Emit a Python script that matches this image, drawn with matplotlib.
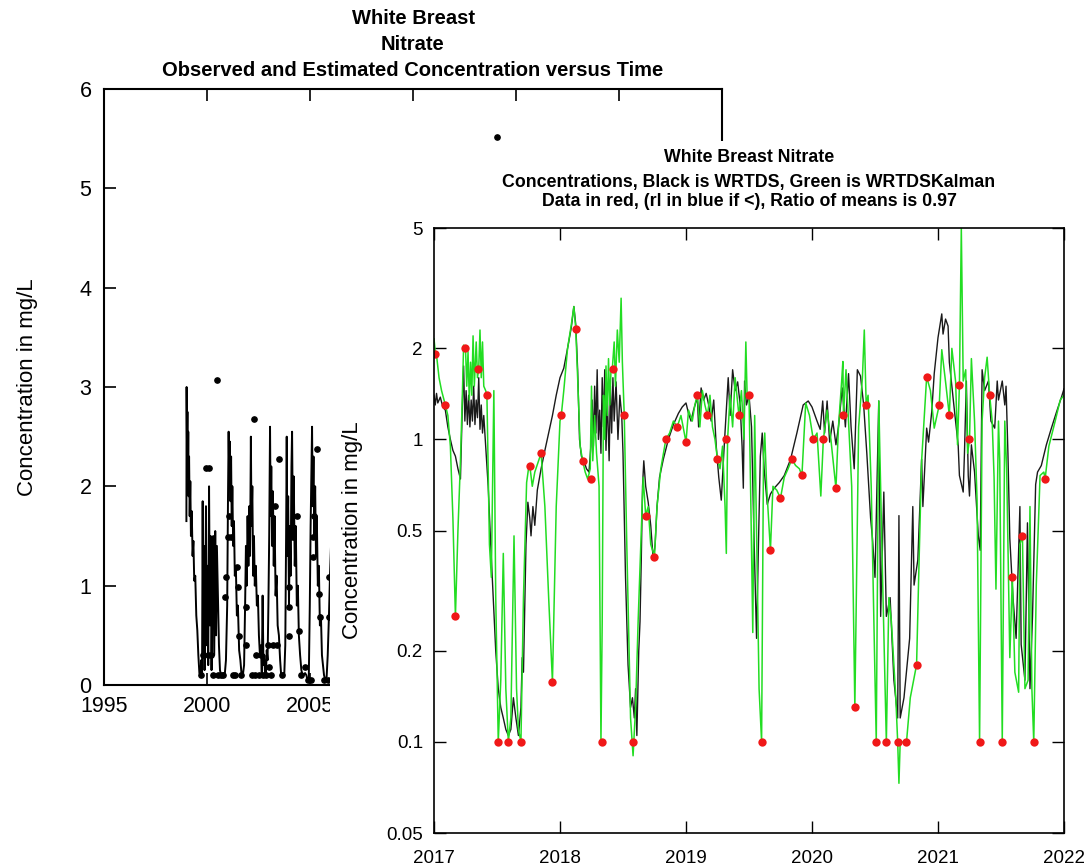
import numpy as np
import matplotlib.pyplot as plt
from matplotlib.patches import Rectangle
from matplotlib.ticker import NullLocator

plt.rcParams['font.family'] = ['Liberation Sans', 'DejaVu Sans']

# ---- back chart: observed and estimated concentration (linear, 1995-2025)
back_t = [1999.00, 1999.01, 1999.03, 1999.05, 1999.07, 1999.09, 1999.11, 1999.13, 1999.16, 1999.19, 1999.22,
          1999.26, 1999.30, 1999.34, 1999.38, 1999.43, 1999.48, 1999.53, 1999.58, 1999.63, 1999.68,
          1999.72, 1999.76, 1999.79, 1999.82, 1999.85, 1999.88, 1999.91, 1999.95, 1999.98,
          2000.02, 2000.06, 2000.10, 2000.14, 2000.18, 2000.22, 2000.26, 2000.30, 2000.35, 2000.40, 2000.44,
          2000.48, 2000.53, 2000.58, 2000.63, 2000.68, 2000.74, 2000.80, 2000.86, 2000.92, 2000.98,
          2001.02, 2001.05, 2001.08, 2001.11, 2001.14, 2001.17, 2001.20, 2001.23, 2001.27, 2001.31,
          2001.35, 2001.40, 2001.45, 2001.50, 2001.56, 2001.62, 2001.68, 2001.74, 2001.80,
          2001.85, 2001.89, 2001.93, 2001.97, 2002.01, 2002.05, 2002.09, 2002.13, 2002.16, 2002.20, 2002.24,
          2002.28, 2002.32, 2002.37, 2002.42, 2002.47, 2002.52, 2002.57, 2002.62, 2002.66, 2002.70, 2002.74,
          2002.78, 2002.82, 2002.86, 2002.90, 2002.94, 2002.98,
          2003.02, 2003.06, 2003.09, 2003.12, 2003.16, 2003.20, 2003.24, 2003.28, 2003.33, 2003.38,
          2003.43, 2003.49, 2003.55, 2003.60, 2003.65, 2003.70, 2003.75, 2003.80,
          2003.84, 2003.87, 2003.90, 2003.94, 2003.98, 2004.02, 2004.06, 2004.10, 2004.13, 2004.17, 2004.21,
          2004.26, 2004.31, 2004.36, 2004.41, 2004.46, 2004.52, 2004.58, 2004.64, 2004.70, 2004.76, 2004.82,
          2004.88, 2004.94, 2004.99,
          2005.03, 2005.07, 2005.10, 2005.13, 2005.17, 2005.21, 2005.25, 2005.29, 2005.33, 2005.38, 2005.43,
          2005.48, 2005.53, 2005.58, 2005.63, 2005.68, 2005.74, 2005.80, 2005.86, 2005.92, 2005.97, 2006.02,
          2006.10]
back_c = [1.65, 3.00, 2.40, 2.75, 2.10, 2.55, 1.90, 2.30, 1.70, 2.05, 1.50,
          1.75, 1.30, 1.45, 1.05, 1.10, 0.70, 0.55, 0.30, 0.12, 0.10,
          0.25, 0.10, 1.85, 0.30, 1.40, 0.15, 0.60, 1.80, 0.40,
          1.20, 0.20, 2.00, 0.60, 1.50, 0.15, 1.00, 1.50, 0.30, 1.55, 0.50,
          1.40, 0.90, 0.40, 0.15, 0.10, 0.10, 0.12, 0.10, 0.25, 0.80,
          1.90, 2.55, 2.10, 2.45, 1.85, 2.30, 1.60, 2.00, 1.40, 1.65,
          1.10, 1.20, 0.70, 0.80, 0.35, 0.25, 0.10, 0.10, 0.20,
          0.80, 1.40, 1.00, 1.70, 1.20, 1.80, 1.30, 2.50, 1.60, 2.00, 1.10,
          1.50, 1.00, 1.20, 0.80, 0.90, 0.50, 0.30, 0.40, 0.10, 0.90, 0.20,
          0.30, 0.10, 0.10, 0.35, 0.25, 0.80,
          1.50, 2.60, 1.70, 2.20, 1.40, 1.95, 1.20, 1.70, 0.90, 1.10,
          0.60, 0.50, 0.25, 0.10, 0.10, 0.12, 0.10, 0.40,
          1.50, 2.50, 1.30, 1.90, 0.80, 1.60, 1.10, 2.20, 2.55, 1.50, 2.10,
          1.20, 1.60, 0.80, 1.00, 0.50, 0.30, 0.15, 0.10, 0.10, 0.12, 0.10,
          0.05, 0.05, 0.80,
          1.60, 2.20, 2.60, 1.80, 2.30, 1.50, 2.00, 1.30, 1.70, 1.00, 1.20,
          0.60, 0.70, 0.30, 0.20, 0.10, 0.05, 0.05, 0.30, 0.70, 1.10, 1.40,
          1.80]

back_obs_t = [1999.71, 1999.82, 1999.92, 1999.95, 2000.08, 2000.03, 2000.19, 2000.28, 2000.47, 2000.52,
              2000.68, 2000.79, 2000.92, 2000.89, 2001.04, 2001.15, 2001.08, 2001.25, 2001.38, 2001.44,
              2001.49, 2001.57, 2001.65, 2001.89, 2001.89, 2002.18, 2002.27, 2002.35, 2002.38, 2002.54,
              2002.62, 2002.70, 2002.86, 2002.94, 2002.99, 2003.11, 2003.19, 2003.32, 2003.40, 2003.48,
              2003.64, 2003.96, 2003.96, 2004.00, 2004.05, 2004.16, 2004.37, 2004.45, 2004.56, 2004.77,
              2004.89, 2005.05, 2005.13, 2005.13, 2005.21, 2005.32, 2005.42, 2005.49, 2005.70, 2005.86,
              2005.94, 2005.94, 2014.10]
back_obs_c = [0.10, 0.30, 0.58, 2.18, 2.18, 0.30, 0.30, 0.10, 3.07, 0.10,
              0.10, 0.10, 1.09, 0.89, 1.49, 1.49, 1.70, 0.10, 0.10, 1.19,
              0.99, 0.49, 0.10, 0.79, 0.40, 0.10, 2.68, 0.10, 0.30, 0.10,
              0.30, 0.10, 0.10, 0.40, 0.18, 0.10, 0.40, 1.80, 0.40, 2.28,
              0.10, 0.49, 0.79, 0.99, 1.49, 1.49, 1.70, 0.54, 0.10, 0.18,
              0.05, 0.05, 1.29, 1.49, 1.70, 2.38, 0.92, 0.68, 0.05, 0.05,
              1.09, 0.68, 5.52]

# ---- front chart: WRTDS (black), WRTDSKalman (green), data (red), log scale 2017-2022
wrtds_t = [2017.00, 2017.01, 2017.02, 2017.03, 2017.05, 2017.07, 2017.09, 2017.11, 2017.13, 2017.15,
           2017.17, 2017.19, 2017.21, 2017.225, 2017.235, 2017.245, 2017.255, 2017.265, 2017.275, 2017.285,
           2017.295, 2017.305, 2017.315, 2017.325, 2017.335, 2017.345, 2017.355, 2017.365, 2017.375, 2017.385,
           2017.395, 2017.41, 2017.43, 2017.45, 2017.47, 2017.49, 2017.51, 2017.53, 2017.55, 2017.57,
           2017.59, 2017.61, 2017.63, 2017.65, 2017.67, 2017.69, 2017.70, 2017.71, 2017.73, 2017.745,
           2017.76, 2017.77, 2017.785, 2017.80, 2017.82, 2017.85, 2017.88, 2017.91, 2017.94, 2017.97,
           2018.00, 2018.03, 2018.06, 2018.09, 2018.11, 2018.125, 2018.14, 2018.155, 2018.17, 2018.19,
           2018.21, 2018.23, 2018.245, 2018.255, 2018.265, 2018.275, 2018.285, 2018.295, 2018.305, 2018.315,
           2018.325, 2018.335, 2018.345, 2018.355, 2018.365, 2018.375, 2018.39, 2018.40, 2018.41, 2018.42,
           2018.43, 2018.445, 2018.46, 2018.475, 2018.49, 2018.50, 2018.51, 2018.52, 2018.54, 2018.56,
           2018.575, 2018.59, 2018.60, 2018.61, 2018.625, 2018.635, 2018.645, 2018.655, 2018.665, 2018.68,
           2018.70, 2018.72, 2018.74, 2018.755, 2018.77, 2018.79, 2018.82, 2018.86, 2018.90, 2018.94,
           2018.97, 2019.00, 2019.02, 2019.04, 2019.06, 2019.09, 2019.10, 2019.12, 2019.14, 2019.16,
           2019.18, 2019.20, 2019.22, 2019.24, 2019.26, 2019.28, 2019.30, 2019.32, 2019.335, 2019.35,
           2019.37, 2019.39, 2019.41, 2019.43, 2019.445, 2019.455, 2019.465, 2019.48, 2019.50, 2019.52,
           2019.54, 2019.56, 2019.575, 2019.59, 2019.605, 2019.62, 2019.645, 2019.67, 2019.70, 2019.74,
           2019.78, 2019.83, 2019.88, 2019.93, 2019.97, 2020.00, 2020.04, 2020.065, 2020.085, 2020.10,
           2020.12, 2020.14, 2020.165, 2020.19, 2020.21, 2020.24, 2020.265, 2020.29, 2020.31, 2020.335,
           2020.36, 2020.385, 2020.41, 2020.435, 2020.465, 2020.48, 2020.50, 2020.53, 2020.545, 2020.57,
           2020.59, 2020.62, 2020.65, 2020.68, 2020.69, 2020.70, 2020.73, 2020.775, 2020.80, 2020.81,
           2020.84, 2020.87, 2020.88, 2020.91, 2020.925, 2020.95, 2020.97, 2021.00, 2021.03, 2021.04,
           2021.06, 2021.08, 2021.09, 2021.11, 2021.13, 2021.16, 2021.17, 2021.20, 2021.21, 2021.225,
           2021.24, 2021.25, 2021.265, 2021.29, 2021.32, 2021.335, 2021.35, 2021.37, 2021.40, 2021.42,
           2021.45, 2021.47, 2021.48, 2021.51, 2021.53, 2021.54, 2021.555, 2021.57, 2021.595, 2021.62,
           2021.65, 2021.66, 2021.69, 2021.71, 2021.73, 2021.75, 2021.775, 2021.79, 2021.82, 2021.86,
           2021.90, 2021.94, 2021.98, 2022.00]
wrtds_c = [1.40, 1.30, 1.42, 1.32, 1.38, 1.28, 1.25, 1.10, 1.00, 0.92,
           0.88, 0.80, 0.74, 1.30, 1.75, 1.15, 1.45, 1.12, 1.40, 1.10,
           1.35, 1.15, 1.50, 1.12, 1.35, 1.18, 1.60, 1.08, 1.30, 1.05,
           1.20, 0.95, 0.70, 0.45, 0.30, 0.20, 0.15, 0.13, 0.12, 0.11,
           0.105, 0.11, 0.14, 0.12, 0.105, 0.13, 0.19, 0.17, 0.45, 0.62,
           0.55, 0.48, 0.60, 0.52, 0.68, 0.80, 0.92, 1.05, 1.20, 1.40,
           1.60, 1.72, 2.00, 2.35, 2.75, 2.40, 1.70, 1.00, 0.88, 0.85,
           0.80, 0.78, 0.95, 1.35, 0.95, 1.50, 1.05, 1.70, 1.00, 1.25,
           0.90, 1.60, 1.10, 1.70, 0.92, 1.40, 0.85, 1.50, 1.05, 1.60,
           1.15, 1.55, 1.00, 1.40, 1.20, 0.90, 0.55, 0.35, 0.18, 0.13,
           0.14, 0.12, 0.15, 0.105, 0.20, 0.25, 0.40, 0.70, 0.85, 0.70,
           0.62, 0.52, 0.40, 0.45, 0.60, 0.75, 0.86, 1.00, 1.12, 1.22,
           1.28, 1.32, 1.22, 1.15, 1.25, 1.38, 1.10, 1.48, 1.35, 1.42,
           1.30, 1.15, 1.35, 0.95, 0.75, 0.63, 0.90, 1.25, 1.60, 1.20,
           1.70, 1.45, 1.55, 1.30, 0.95, 0.69, 1.56, 1.30, 1.40, 1.10,
           0.47, 0.22, 0.45, 0.88, 1.05, 0.80, 0.61, 0.66, 0.69, 0.72,
           0.76, 0.86, 1.05, 1.30, 1.34, 1.28, 1.15, 1.08, 1.34, 1.05,
           1.34, 0.98, 1.15, 0.96, 1.10, 1.48, 1.10, 1.65, 1.10, 0.80,
           1.70, 1.62, 1.30, 0.90, 0.55, 0.47, 0.35, 1.34, 0.26, 0.67,
           0.26, 0.30, 0.16, 0.12, 0.56, 0.12, 0.14, 0.22, 0.60, 0.33,
           0.40, 0.86, 0.60, 1.09, 0.98, 1.23, 1.65, 2.17, 2.60, 2.23,
           2.50, 2.37, 1.80, 1.50, 1.25, 0.96, 0.76, 0.67, 0.90, 1.56,
           0.76, 0.65, 0.96, 0.78, 0.48, 0.43, 1.70, 1.45, 1.56, 1.15,
           1.09, 1.56, 1.35, 1.56, 1.30, 1.50, 0.90, 0.47, 0.30, 0.22,
           0.60, 0.21, 0.16, 0.53, 0.15, 0.26, 0.71, 0.78, 0.82, 0.96,
           1.09, 1.23, 1.38, 1.47]

kalman_t = [2017.00, 2017.01, 2017.02, 2017.04, 2017.06, 2017.09, 2017.11, 2017.13, 2017.15, 2017.17,
            2017.19, 2017.21, 2017.225, 2017.235, 2017.25, 2017.26, 2017.27, 2017.28, 2017.29, 2017.30,
            2017.31, 2017.32, 2017.335, 2017.345, 2017.355, 2017.365, 2017.375, 2017.385, 2017.395, 2017.41,
            2017.42, 2017.43, 2017.44, 2017.455, 2017.475, 2017.49, 2017.51, 2017.53, 2017.55, 2017.57,
            2017.59, 2017.61, 2017.635, 2017.655, 2017.67, 2017.69, 2017.71, 2017.735, 2017.75, 2017.76,
            2017.78, 2017.80, 2017.83, 2017.85, 2017.88, 2017.91, 2017.94, 2017.97, 2018.00, 2018.01,
            2018.03, 2018.06, 2018.09, 2018.11, 2018.125, 2018.14, 2018.16, 2018.18, 2018.20, 2018.22,
            2018.24, 2018.25, 2018.26, 2018.275, 2018.29, 2018.31, 2018.325, 2018.335, 2018.345, 2018.355,
            2018.365, 2018.375, 2018.385, 2018.395, 2018.405, 2018.415, 2018.43, 2018.44, 2018.455, 2018.47,
            2018.485, 2018.495, 2018.51, 2018.53, 2018.56, 2018.58, 2018.60, 2018.62, 2018.645, 2018.66,
            2018.68, 2018.70, 2018.72, 2018.75, 2018.77, 2018.80, 2018.84, 2018.87, 2018.90, 2018.93,
            2018.96, 2019.00, 2019.02, 2019.05, 2019.07, 2019.09, 2019.11, 2019.13, 2019.15, 2019.17,
            2019.19, 2019.21, 2019.23, 2019.25, 2019.27, 2019.29, 2019.31, 2019.32, 2019.33, 2019.35,
            2019.37, 2019.39, 2019.42, 2019.44, 2019.46, 2019.475, 2019.485, 2019.50, 2019.515, 2019.53,
            2019.545, 2019.56, 2019.58, 2019.60, 2019.615, 2019.625, 2019.64, 2019.67, 2019.69, 2019.72,
            2019.75, 2019.78, 2019.81, 2019.84, 2019.87, 2019.90, 2019.92, 2019.95, 2019.98, 2020.01,
            2020.04, 2020.07, 2020.09, 2020.12, 2020.15, 2020.19, 2020.21, 2020.235, 2020.245, 2020.25,
            2020.27, 2020.29, 2020.315, 2020.34, 2020.37, 2020.40, 2020.415, 2020.43, 2020.445, 2020.47,
            2020.51, 2020.53, 2020.56, 2020.59, 2020.61, 2020.63, 2020.665, 2020.68, 2020.69, 2020.70,
            2020.75, 2020.78, 2020.83, 2020.85, 2020.87, 2020.91, 2020.94, 2020.97, 2021.01, 2021.03,
            2021.06, 2021.09, 2021.11, 2021.14, 2021.155, 2021.17, 2021.185, 2021.20, 2021.22, 2021.235,
            2021.25, 2021.265, 2021.29, 2021.31, 2021.33, 2021.35, 2021.37, 2021.39, 2021.41, 2021.43,
            2021.445, 2021.46, 2021.48, 2021.49, 2021.51, 2021.53, 2021.545, 2021.57, 2021.59, 2021.61,
            2021.64, 2021.65, 2021.67, 2021.69, 2021.715, 2021.73, 2021.745, 2021.76, 2021.78, 2021.81,
            2021.84, 2021.85, 2021.88, 2021.93, 2021.97, 2022.00]
kalman_c = [2.15, 1.95, 1.90, 1.60, 1.45, 1.30, 1.20, 0.95, 0.55, 0.26,
            0.50, 0.85, 1.40, 2.05, 2.00, 1.50, 1.95, 1.35, 1.80, 1.40,
            2.20, 1.50, 2.10, 1.60, 1.71, 2.30, 1.60, 2.10, 1.50, 1.45,
            1.40, 0.80, 0.45, 0.35, 1.45, 0.30, 0.10, 0.16, 0.42, 0.15,
            0.10, 0.12, 0.48, 0.15, 0.11, 0.10, 0.30, 0.72, 0.80, 0.82,
            0.70, 0.78, 0.85, 0.90, 0.60, 0.30, 0.158, 0.60, 1.15, 1.20,
            1.45, 2.00, 2.40, 2.75, 2.32, 1.60, 0.95, 0.85, 0.78, 0.74,
            0.80, 1.50, 0.85, 1.20, 0.90, 0.70, 0.10, 0.25, 1.40, 1.00,
            1.75, 1.20, 1.85, 1.30, 1.71, 1.71, 2.10, 1.50, 2.30, 1.80,
            2.93, 1.80, 1.20, 0.45, 0.12, 0.09, 0.13, 0.25, 0.50, 0.75,
            0.56, 0.60, 0.45, 0.41, 0.60, 0.80, 1.00, 1.05, 1.15, 1.10,
            1.20, 0.98, 1.25, 1.15, 1.30, 1.40, 1.10, 1.45, 1.30, 1.20,
            1.40, 1.10, 1.00, 0.86, 0.80, 0.95, 0.60, 0.42, 1.00, 1.40,
            1.10, 1.60, 1.20, 1.45, 1.00, 2.10, 1.40, 1.40, 0.60, 0.23,
            1.20, 0.50, 0.15, 0.10, 0.88, 1.05, 0.70, 0.43, 0.70, 0.68,
            0.64, 0.75, 0.80, 0.86, 0.82, 0.80, 0.76, 1.32, 1.20, 1.00,
            1.05, 0.65, 1.00, 1.25, 1.00, 0.69, 1.10, 1.55, 1.81, 1.20,
            1.70, 1.15, 0.70, 0.13, 1.10, 1.60, 2.30, 1.30, 1.40, 0.70,
            0.10, 1.34, 0.35, 0.10, 0.30, 0.25, 0.14, 0.10, 0.073, 0.10,
            0.10, 0.14, 0.18, 0.40, 0.85, 1.61, 1.45, 1.09, 1.30, 1.98,
            1.55, 1.20, 2.00, 1.55, 0.96, 1.51, 5.00, 1.56, 1.70, 0.90,
            1.00, 1.85, 1.15, 0.63, 0.10, 1.15, 1.60, 1.87, 1.40, 1.15,
            0.75, 0.32, 1.15, 0.85, 0.10, 1.15, 0.80, 0.19, 0.35, 0.17,
            0.146, 0.45, 0.48, 0.15, 0.16, 0.60, 0.15, 0.10, 0.33, 0.76,
            0.78, 0.74, 0.95, 1.15, 1.35, 1.40]

obs_t = [2017.01, 2017.09, 2017.17, 2017.25, 2017.35, 2017.42, 2017.51, 2017.59, 2017.69, 2017.76, 2017.85, 2017.94,
         2018.01, 2018.13, 2018.18, 2018.25, 2018.33, 2018.42, 2018.51, 2018.58, 2018.68, 2018.75, 2018.84, 2018.93,
         2019.00, 2019.09, 2019.17, 2019.25, 2019.32, 2019.42, 2019.50, 2019.60, 2019.67, 2019.75, 2019.84, 2019.92,
         2020.01, 2020.09, 2020.19, 2020.25, 2020.34, 2020.43, 2020.51, 2020.59, 2020.68, 2020.75, 2020.83, 2020.91,
         2021.01, 2021.09, 2021.17, 2021.25, 2021.33, 2021.41, 2021.51, 2021.59, 2021.67, 2021.76, 2021.85]
obs_c = [1.91, 1.30, 0.26, 2.00, 1.71, 1.40, 0.10, 0.10, 0.10, 0.82, 0.90, 0.158,
         1.20, 2.32, 0.85, 0.74, 0.10, 1.71, 1.20, 0.10, 0.56, 0.41, 1.00, 1.10,
         0.98, 1.40, 1.20, 0.86, 1.00, 1.20, 1.40, 0.10, 0.43, 0.64, 0.86, 0.76,
         1.00, 1.00, 0.69, 1.20, 0.13, 1.30, 0.10, 0.10, 0.10, 0.10, 0.18, 1.61,
         1.30, 1.20, 1.51, 1.00, 0.10, 1.40, 0.10, 0.35, 0.48, 0.10, 0.74]

front_yticks = [0.05, 0.1, 0.2, 0.5, 1, 2, 5]
front_ylabels = ['0.05', '0.1', '0.2', '0.5', '1', '2', '5']

W, H = 1089, 868
fig = plt.figure(figsize=(W / 100, H / 100), dpi=100)


def px_box(left, top, right, bottom):
    return [left / W, 1 - bottom / H, (right - left) / W, (bottom - top) / H]


# back chart
ax1 = fig.add_axes(px_box(104, 89, 722, 685))
ax1.plot(back_t, back_c, color='black', lw=1.4)
ax1.plot(back_obs_t, back_obs_c, 'o', color='black', ms=3.8)
ax1.set_xlim(1995, 2025)
ax1.set_ylim(0, 6)
ax1.set_xticks(range(1995, 2026, 5))
ax1.set_yticks(range(7))
ax1.tick_params(direction='in', length=8.5, width=1.2, top=True, right=True, labelsize=15.5)
ax1.tick_params(axis='x', pad=8)
ax1.tick_params(axis='y', pad=9)
for s in ax1.spines.values():
    s.set_linewidth(1.5)

fig.text(28 / W, 1 - 387 / H, 'Concentration in mg/L', rotation=90, fontsize=16, ha='center', va='center')
for txt, y in [('White Breast', 18), ('Nitrate', 44), ('Observed and Estimated Concentration versus Time', 70)]:
    fig.text(413 / W, 1 - y / H, txt, fontsize=14.5, fontweight='bold', ha='center', va='center')

# the second chart sits on top of the first one
fig.add_artist(Rectangle((330 / W, 0), 1 - 330 / W, 1 - 141 / H, transform=fig.transFigure,
                         facecolor='white', edgecolor='none', zorder=1))

ax2 = fig.add_axes(px_box(434, 228, 1064, 833))
ax2.set_zorder(2)
ax2.set_facecolor('none')
ax2.plot(wrtds_t, wrtds_c, color='#1a1a1a', lw=1.0)
ax2.plot(kalman_t, kalman_c, color='#22dd22', lw=1.1)
ax2.plot(obs_t, obs_c, 'o', color='#f01818', ms=6, mec='none')
ax2.set_yscale('log')
ax2.set_ylim(0.05, 5)
ax2.set_xlim(2017, 2022)
ax2.set_yticks(front_yticks, front_ylabels)
ax2.yaxis.set_minor_locator(NullLocator())
ax2.set_xticks(range(2017, 2023))
ax2.tick_params(direction='in', length=8.5, width=1.0, top=True, right=True, labelsize=13.5)
ax2.tick_params(axis='x', pad=12)
ax2.tick_params(axis='y', pad=8)
for s in ax2.spines.values():
    s.set_linewidth(1.2)

fig.text(352 / W, 1 - 530 / H, 'Concentration in mg/L', rotation=90, fontsize=16, ha='center', va='center')
for txt, y in [('White Breast Nitrate', 158),
               ('Concentrations, Black is WRTDS, Green is WRTDSKalman', 182),
               ('Data in red, (rl in blue if <), Ratio of means is 0.97', 202)]:
    fig.text(749 / W, 1 - y / H, txt, fontsize=12.8, fontweight='bold', ha='center', va='center')

fig.savefig('out.png', dpi=100)
